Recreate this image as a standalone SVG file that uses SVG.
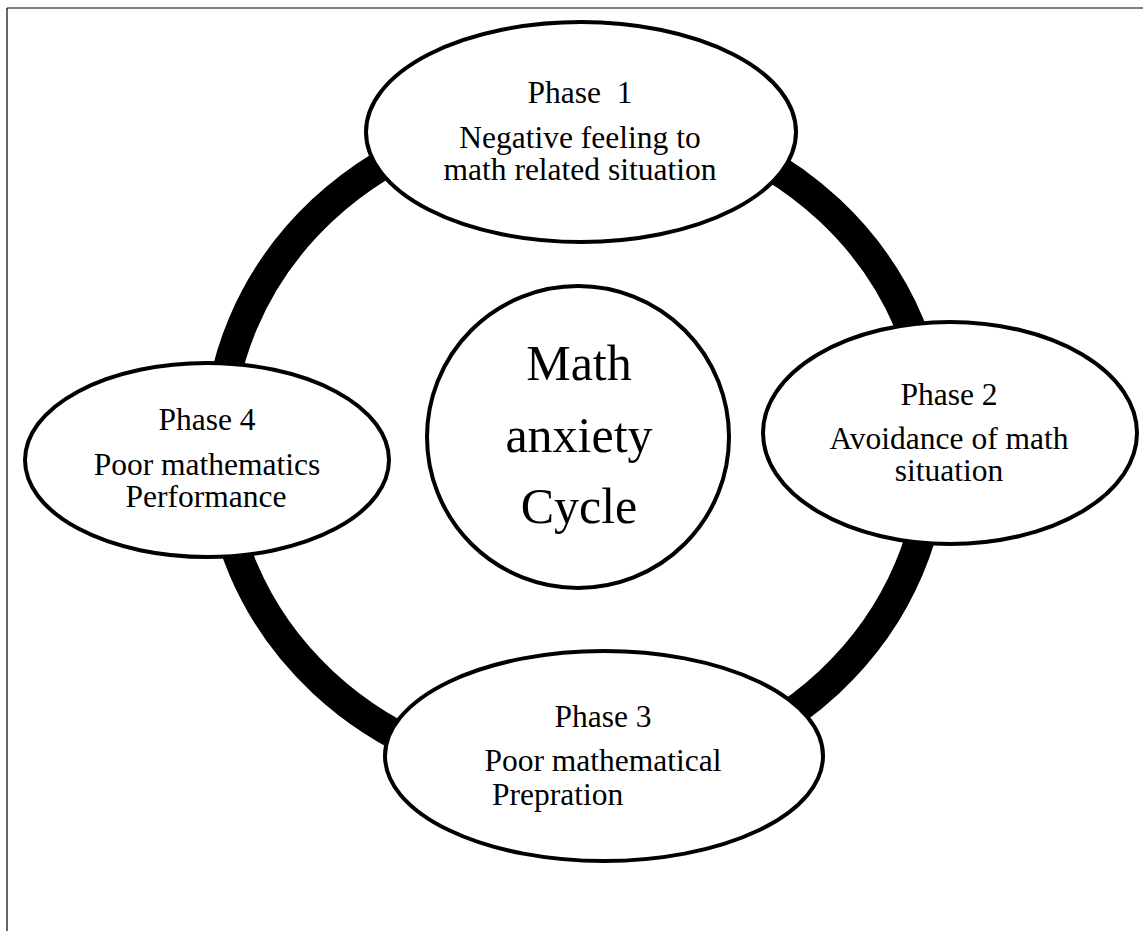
<svg xmlns="http://www.w3.org/2000/svg" width="1143" height="931" viewBox="0 0 1143 931">
<style>
.node{fill:#fff;stroke:#000;stroke-width:4}
.t{font-family:"Liberation Serif","Times New Roman",serif;font-size:31.5px;fill:#000;text-anchor:middle}
.big{font-family:"Liberation Serif","Times New Roman",serif;font-size:50px;fill:#000;text-anchor:middle}
</style>
<rect width="1143" height="931" fill="#fff"/>
<g id="frame" stroke="#000" stroke-width="1.2" fill="none">
<line x1="7" y1="8" x2="1143" y2="8"/>
<line x1="7" y1="8" x2="7" y2="931"/>
</g>
<g id="connectors">
<ellipse cx="576" cy="446" rx="358" ry="334" fill="none" stroke="#000" stroke-width="30"/>
</g>
<g id="phase1">
<ellipse class="node" cx="581" cy="132" rx="215" ry="110"/>
<text class="t" x="580" y="103" xml:space="preserve">Phase  1</text>
<text class="t" x="580" y="148">Negative feeling to</text>
<text class="t" x="580" y="180">math related situation</text>
</g>
<g id="phase2">
<ellipse class="node" cx="950" cy="433" rx="187" ry="111"/>
<text class="t" x="949" y="405">Phase 2</text>
<text class="t" x="949" y="449">Avoidance of math</text>
<text class="t" x="949" y="481">situation</text>
</g>
<g id="phase3">
<ellipse class="node" cx="604" cy="756" rx="219" ry="105"/>
<text class="t" x="603" y="727">Phase 3</text>
<text class="t" x="603" y="771">Poor mathematical</text>
<text class="t" x="492" y="805" style="text-anchor:start">Prepration</text>
</g>
<g id="phase4">
<ellipse class="node" cx="207" cy="460" rx="182" ry="97"/>
<text class="t" x="207" y="430">Phase 4</text>
<text class="t" x="207" y="475">Poor mathematics</text>
<text class="t" x="206" y="507">Performance</text>
</g>
<g id="center">
<circle class="node" cx="578" cy="437" r="151" stroke-width="3.5"/>
<text class="big" x="579" y="380">Math</text>
<text class="big" x="579" y="452">anxiety</text>
<text class="big" x="579" y="523">Cycle</text>
</g>
</svg>
